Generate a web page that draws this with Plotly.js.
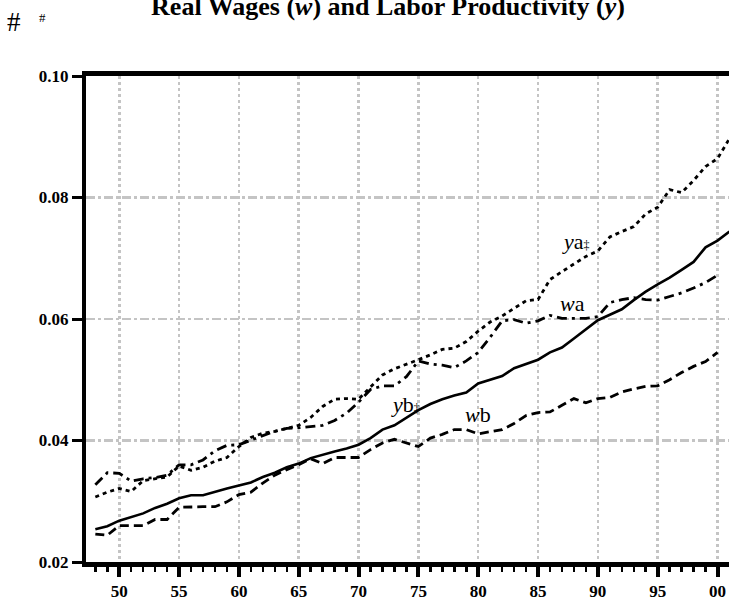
<!DOCTYPE html>
<html>
<head>
<meta charset="utf-8">
<script src="https://cdn.plot.ly/plotly-3.0.1.min.js"></script>
<style>html,body{margin:0;padding:0;background:#fff;}#chart{width:729px;height:600px;}</style>
</head>
<body>
<div id="chart"></div>
<script>
const years = [1948,1949,1950,1951,1952,1953,1954,1955,1956,1957,1958,1959,1960,1961,1962,1963,1964,1965,1966,1967,1968,1969,1970,1971,1972,1973,1974,1975,1976,1977,1978,1979,1980,1981,1982,1983,1984,1985,1986,1987,1988,1989,1990,1991,1992,1993,1994,1995,1996,1997,1998,1999,2000];
const yearsY = years.concat([2001]);

const yaValues = [0.0307,0.0315,0.0321,0.0316,0.0334,0.0337,0.0340,0.0358,0.0351,0.0356,0.0366,0.0372,0.0390,0.0405,0.0412,0.0415,0.0420,0.0425,0.0438,0.0456,0.0468,0.0469,0.0468,0.0488,0.0508,0.0518,0.0525,0.0533,0.0541,0.0550,0.0552,0.0563,0.0580,0.0595,0.0605,0.0617,0.0630,0.0632,0.0665,0.0678,0.0690,0.0703,0.0712,0.0735,0.0744,0.0752,0.0773,0.0784,0.0813,0.0808,0.0828,0.0851,0.0864,0.0897];
const waValues = [0.0327,0.0347,0.0346,0.0333,0.0337,0.0339,0.0343,0.0360,0.0360,0.0368,0.0383,0.0392,0.0393,0.0401,0.0408,0.0415,0.0420,0.0421,0.0423,0.0425,0.0433,0.0445,0.0463,0.0484,0.0490,0.0490,0.0505,0.0531,0.0526,0.0524,0.0520,0.0531,0.0545,0.0570,0.0597,0.0599,0.0593,0.0597,0.0606,0.0601,0.0601,0.0601,0.0604,0.0627,0.0632,0.0635,0.0632,0.0631,0.0637,0.0643,0.0651,0.0660,0.0672];
const ybValues = [0.0254,0.0259,0.0268,0.0274,0.0280,0.0289,0.0296,0.0305,0.0310,0.0310,0.0316,0.0321,0.0326,0.0331,0.0340,0.0347,0.0356,0.0362,0.0371,0.0377,0.0382,0.0387,0.0393,0.0404,0.0418,0.0425,0.0437,0.0450,0.0460,0.0468,0.0474,0.0479,0.0494,0.0500,0.0506,0.0519,0.0526,0.0533,0.0545,0.0553,0.0568,0.0583,0.0598,0.0607,0.0616,0.0631,0.0645,0.0657,0.0668,0.0681,0.0694,0.0718,0.0729,0.0744];
const wbValues = [0.0246,0.0244,0.0260,0.0260,0.0260,0.0270,0.0270,0.0290,0.0291,0.0291,0.0291,0.0299,0.0311,0.0315,0.0330,0.0343,0.0352,0.0360,0.0370,0.0362,0.0372,0.0372,0.0372,0.0385,0.0396,0.0402,0.0396,0.0390,0.0404,0.0410,0.0418,0.0418,0.0411,0.0414,0.0418,0.0428,0.0441,0.0446,0.0447,0.0458,0.0469,0.0462,0.0469,0.0471,0.0480,0.0485,0.0489,0.0490,0.0500,0.0512,0.0522,0.0530,0.0545];

const xTickVals = [1950,1955,1960,1965,1970,1975,1980,1985,1990,1995,2000];
const xTickText = ['50','55','60','65','70','75','80','85','90','95','00'];
const yTickVals = [0.02,0.04,0.06,0.08,0.10];
const yTickText = ['0.02','0.04','0.06','0.08','0.10'];

const serif = 'Liberation Serif, Times New Roman, serif';

const traces = [
  {x: yearsY, y: yaValues, mode:'lines', line:{color:'#000', width:2.8, dash:'4px,4px'}, name:'ya'},
  {x: years, y: waValues, mode:'lines', line:{color:'#000', width:2.8, dash:'10px,5px,3px,5px'}, name:'wa'},
  {x: yearsY, y: ybValues, mode:'lines', line:{color:'#000', width:2.6}, name:'yb'},
  {x: years, y: wbValues, mode:'lines', line:{color:'#000', width:2.8, dash:'9px,5px'}, name:'wb'}
];

const lblFont = {family: serif, size: 22, color:'#000'};
const plotH = 600-76-38, plotW = 729-86;
const layout = {
  width: 729, height: 600,
  margin: {l:86, r:0, t:76, b:38},
  paper_bgcolor:'#fff', plot_bgcolor:'#fff',
  showlegend:false,
  title: {text:'<b>Real Wages (<i>w</i>) and Labor Productivity (<i>y</i>)</b>', font:{family:serif, size:26, color:'#000'}, x:388/729, xanchor:'center', xref:'container', y:1-6/600, yanchor:'middle', yref:'container'},
  xaxis: {
    range:[1947.22, 2000.96], tickvals:xTickVals, ticktext:xTickText,
    showgrid:true, gridcolor:'#c4c4c4', gridwidth:2.5, griddash:'dot',
    showline:true, linecolor:'#000', linewidth:5, mirror:true,
    ticks:'outside', ticklen:10, tickwidth:4, tickcolor:'#000',
    minor:{dtick:1, tick0:1948, ticks:'outside', ticklen:5, tickwidth:2.5, tickcolor:'#000', showgrid:false},
    tickfont:{family:serif, size:17, color:'#000', weight:'bold'},
    zeroline:false, fixedrange:true
  },
  yaxis: {
    range:[0.02, 0.10], tickvals:yTickVals, ticktext:yTickText,
    showgrid:true, gridcolor:'#c4c4c4', gridwidth:2.5, griddash:'dashdot',
    showline:true, linecolor:'#000', linewidth:4,
    ticks:'outside', ticklen:10, tickwidth:3, tickcolor:'#000',
    tickfont:{family:serif, size:17, color:'#000', weight:'bold'},
    zeroline:false, fixedrange:true
  },
  annotations: [
    {x:1988.15, y:0.0727, xref:'x', yref:'y', text:'<i>y</i>a<span style="font-size:12px">‡</span>', showarrow:false, font:lblFont},
    {x:1987.9, y:0.0625, xref:'x', yref:'y', text:'<i>w</i>a', showarrow:false, font:lblFont},
    {x:1973.95, y:0.0460, xref:'x', yref:'y', text:'<i>y</i>b<span style="font-size:12px">‡</span>', showarrow:false, font:lblFont},
    {x:1979.97, y:0.0442, xref:'x', yref:'y', text:'<i>w</i>b', showarrow:false, font:lblFont},
    {x:(14-86)/plotW, y:(562-22)/plotH, xref:'paper', yref:'paper', xanchor:'center', yanchor:'middle', text:'#', showarrow:false, font:{family:serif, size:27, color:'#000'}},
    {x:(42-86)/plotW, y:(562-17)/plotH, xref:'paper', yref:'paper', xanchor:'center', yanchor:'middle', text:'#', showarrow:false, font:{family:serif, size:13, color:'#000'}}
  ]
};

Plotly.newPlot('chart', traces, layout, {displayModeBar:false, staticPlot:true});
</script>
</body>
</html>
